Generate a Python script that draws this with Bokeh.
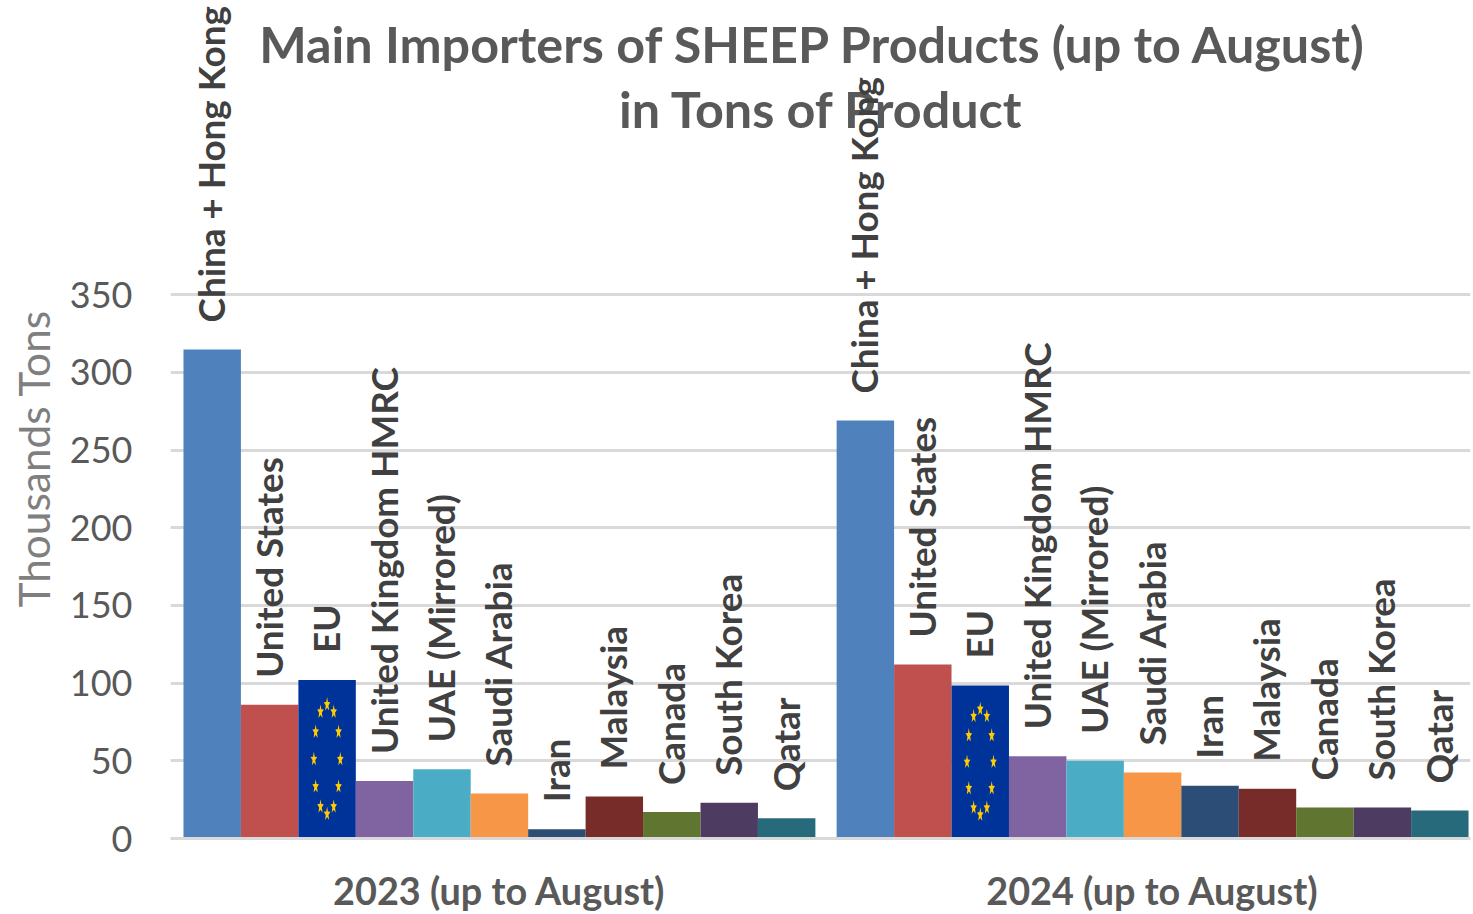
import math
from bokeh.plotting import figure
from bokeh.models import ColumnDataSource, FixedTicker, Label, Range1d, Title
from bokeh.core.properties import value
from bokeh.embed import file_html
from bokeh.resources import INLINE

countries = ["China + Hong Kong", "United States", "EU", "United Kingdom HMRC", "UAE (Mirrored)",
             "Saudi Arabia", "Iran", "Malaysia", "Canada", "South Korea", "Qatar"]
groups = ["2023 (up to August)", "2024 (up to August)"]
values_2023 = [314.7, 86, 102, 37, 44.5, 29, 6, 27, 17, 23, 13]
values_2024 = [269, 112, 98.5, 53, 50, 42.5, 34, 32, 20, 20, 18]
colors = ["#4F81BD", "#C0504D", "#003399", "#8064A2", "#4BACC6", "#F79646",
          "#2C4D75", "#772C2A", "#5F7530", "#4D3B62", "#276A7C"]
y_ticks = [0, 50, 100, 150, 200, 250, 300, 350]
title_lines = ["Main Importers of SHEEP Products (up to August)", "in Tons of Product"]
y_label = "Thousands Tons"

GAP = 0.37
n = len(countries)
offsets = [0, n + GAP]
series = [values_2023, values_2024]

xs, ys, names, cols = [], [], [], []
for off, vals in zip(offsets, series):
    for i, v in enumerate(vals):
        xs.append(off + i + 0.5)
        ys.append(v)
        names.append(countries[i])
        cols.append(colors[i])
src = ColumnDataSource(dict(x=xs, y=ys, name=names, color=cols))

FONT = "Lato"
FRAME_W, FRAME_H = 1300, 838
YMAX = FRAME_H / 1.554
p = figure(frame_width=FRAME_W, frame_height=FRAME_H, output_backend="svg", toolbar_location=None,
           x_range=Range1d(-0.226, 22.404), y_range=Range1d(0, YMAX),
           min_border_left=170, min_border_right=3, min_border_top=0, min_border_bottom=0,
           outline_line_color=None, background_fill_color="white")

p.vbar(x="x", top="y", bottom=0, width=1.0, fill_color="color", line_color=None, source=src)

# EU flag stars, stretched with the flag that fills the bar
eu = countries.index("EU")
star_xs, star_ys = [], []
for off, vals in zip(offsets, series):
    v = vals[eu]
    for k in range(12):
        a = math.radians(30 * k)
        cx = off + eu + 0.5 + 0.23 * math.cos(a)
        cy = v / 2 + 0.345 * v * math.sin(a)
        px, py = [], []
        for j in range(10):
            r = 1.0 if j % 2 == 0 else 0.42
            t = math.radians(90 + 36 * j)
            px.append(cx + r * math.cos(t) * 0.06)
            py.append(cy + r * math.sin(t) * 4.8)
        star_xs.append(px)
        star_ys.append(py)
p.patches(star_xs, star_ys, fill_color="#FFCC00", line_color=None)

# title (beneath the rotated labels)
for line, tx, ty in zip(title_lines, (643, 651), (795, 730)):
    p.add_layout(Label(x=tx, y=ty, x_units="screen", y_units="screen", text=line,
                       text_font=FONT, text_font_style="bold", text_font_size="50.3px",
                       text_color="#595959", text_align="center", text_baseline="middle",
                       level="glyph"))

labels = p.text(x="x", y="y", text="name", source=src, angle=math.pi / 2,
                text_font=value(FONT), text_font_style="bold", text_font_size="36.8px",
                text_color="#404040", text_align="left", text_baseline="middle",
                x_offset=-1, y_offset=-27)
labels.level = "overlay"

p.ygrid.ticker = FixedTicker(ticks=y_ticks)
p.ygrid.grid_line_color = "#D9D9D9"
p.ygrid.grid_line_width = 3
p.xgrid.visible = False

ax = p.yaxis[0]
ax.ticker = FixedTicker(ticks=y_ticks)
ax.axis_line_color = None
ax.major_tick_line_color = None
ax.minor_tick_line_color = None
ax.major_tick_in = 0
ax.major_tick_out = 0
ax.major_label_standoff = 38
ax.major_label_text_font = FONT
ax.major_label_text_font_size = "36px"
ax.major_label_text_color = "#595959"

p.add_layout(Title(text=y_label, align="left", offset=231, standoff=12, vertical_align="top",
                   text_font=FONT, text_font_style="normal", text_font_size="42.4px",
                   text_color="#7F7F7F"), "left")

bx = p.xaxis[0]
centers = [off + n / 2 for off in offsets]
bx.ticker = FixedTicker(ticks=centers)
bx.major_label_overrides = {c: g for c, g in zip(centers, groups)}
bx.axis_line_color = "#D9D9D9"
bx.axis_line_width = 3
bx.major_tick_line_color = None
bx.minor_tick_line_color = None
bx.major_tick_in = 0
bx.major_tick_out = 0
bx.major_label_standoff = 29
bx.major_label_text_font = FONT
bx.major_label_text_font_style = "bold"
bx.major_label_text_font_size = "37.8px"
bx.major_label_text_color = "#595959"

open("out.html", "w").write(file_html(p, INLINE))
